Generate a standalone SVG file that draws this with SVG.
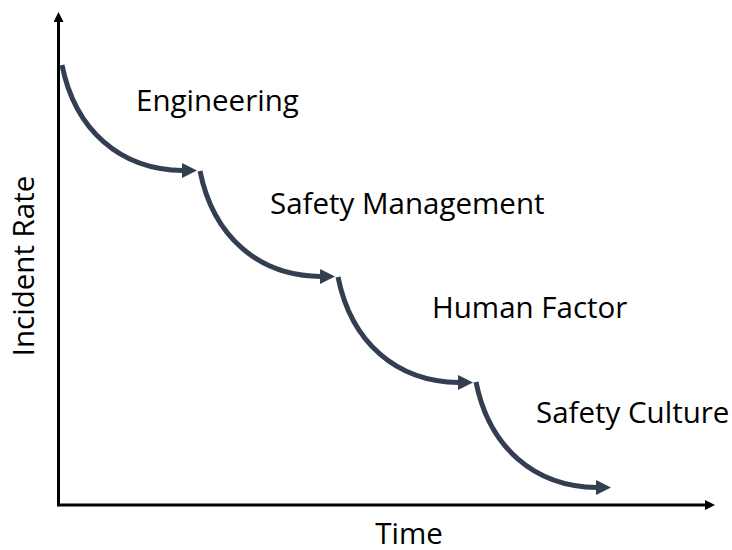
<svg xmlns="http://www.w3.org/2000/svg" width="732" height="550" viewBox="0 0 732 550">
  <defs>
    <style>
      .axis { stroke: #000; stroke-width: 3; fill: none; }
      .step { stroke: #333F50; stroke-width: 5; fill: none; marker-end: url(#stepHead); }
      .label { font-family: "Open Sans", Lato, "Liberation Sans", sans-serif; font-size: 29.5px; fill: #000; }
    </style>
    <marker id="axisHead" viewBox="0 0 10 10" refX="0" refY="5" markerWidth="10" markerHeight="10" markerUnits="userSpaceOnUse" orient="auto">
      <path d="M0,0 L10,5 L0,10 Z" fill="#000"/>
    </marker>
    <marker id="stepHead" viewBox="0 0 15 15" refX="1" refY="7.5" markerWidth="15" markerHeight="15" markerUnits="userSpaceOnUse" orient="auto">
      <path d="M0,0 L15,7.5 L0,15 Z" fill="#333F50"/>
    </marker>
    <path id="stepCurve" d="M62,65 C75,130 120,170 183,170.5"/>
  </defs>

  <!-- axes -->
  <g id="axes">
    <path class="axis" d="M58.5,506 L58.5,22" marker-end="url(#axisHead)"/>
    <path class="axis" d="M57,505 L705,505" marker-end="url(#axisHead)"/>
  </g>

  <!-- descending stage arrows -->
  <g id="connectors">
    <use href="#stepCurve" class="step"/>
    <use href="#stepCurve" class="step" transform="translate(138,106)"/>
    <use href="#stepCurve" class="step" transform="translate(276,212)"/>
    <use href="#stepCurve" class="step" transform="translate(414,317)"/>
  </g>

  <g id="engineering"><text class="label" x="136" y="111">Engineering</text></g>
  <g id="safety-management"><text class="label" x="270" y="214">Safety Management</text></g>
  <g id="human-factor"><text class="label" x="432" y="318">Human Factor</text></g>
  <g id="safety-culture"><text class="label" x="536" y="423">Safety Culture</text></g>

  <g id="axis-labels">
    <text class="label" x="409" y="544" text-anchor="middle">Time</text>
    <text class="label" transform="translate(34,266) rotate(-90)" text-anchor="middle">Incident Rate</text>
  </g>
</svg>
